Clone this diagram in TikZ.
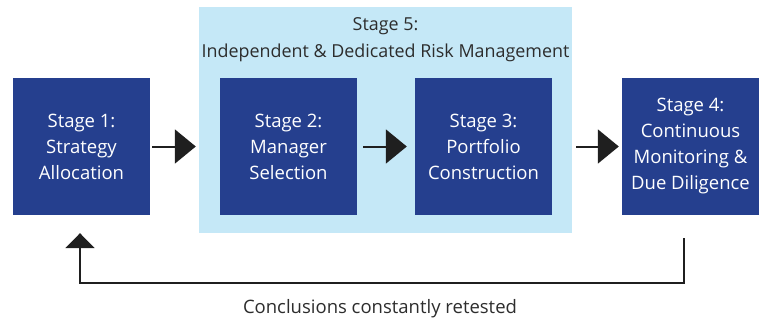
\documentclass[tikz,border=0pt]{standalone}
\usepackage{fontspec}
\setmainfont{Open Sans}
\usetikzlibrary{arrows.meta,calc}
\definecolor{boxblue}{RGB}{37,63,142}
\definecolor{paleblue}{RGB}{197,232,247}
\definecolor{txtgray}{RGB}{45,45,45}
\begin{document}
\begin{tikzpicture}[x=1pt,y=-1pt,
  stagebox/.style={fill=boxblue,minimum width=137pt,minimum height=137pt,inner sep=0pt,
    text=white,align=center,font=\fontsize{18.5}{26}\selectfont},
  arr/.style={line width=2pt,draw=black!88,-{Triangle[length=21pt,width=34pt]}},
  back/.style={line width=2pt,draw=black!88,-{Triangle[length=15pt,width=29pt]}}]
\useasboundingbox (0,0) rectangle (763,322);
\node[fill=paleblue,minimum width=373pt,minimum height=226pt,inner sep=0pt] (s5) at (385.5,120) {};
\node[text=txtgray,align=center,font=\fontsize{17.9}{27}\selectfont] (s5t) at (385.5,40) {Stage 5:\\Independent \& Dedicated Risk Management};
\node[stagebox] (b1) at (81.5,146.5) {Stage 1:\\Strategy\\Allocation};
\node[stagebox] (b2) at (288.5,146.5) {Stage 2:\\Manager\\Selection};
\node[stagebox] (b3) at (483.5,146.5) {Stage 3:\\Portfolio\\Construction};
\node[stagebox] (b4) at (690.5,146.5) {Stage 4:\\Continuous\\Monitoring \&\\Due Diligence};
\node[text=txtgray,font=\fontsize{18.5}{20}\selectfont] (lbl) at (380,309) {Conclusions constantly retested};
\draw[arr,shorten <=2pt,shorten >=3pt] (b1.east) -- (s5.west |- b1.east);
\draw[arr,shorten <=6pt,shorten >=8pt] (b2.east) -- (b3.west);
\draw[arr,shorten <=4pt,shorten >=3pt] (s5.east |- b3.east) -- (b4.west);
\coordinate (fb1) at ($(b4.south)+(-6.5,23)$);
\coordinate (fb2) at ($(b4.south)+(-6.5,68)$);
\coordinate (fb3) at ($(b1.south)+(-1.5,68)$);
\coordinate (fb4) at ($(b1.south)+(-1.5,18)$);
\draw[back] (fb1) -- (fb2) -- (fb3) -- (fb4);
\end{tikzpicture}
\end{document}
